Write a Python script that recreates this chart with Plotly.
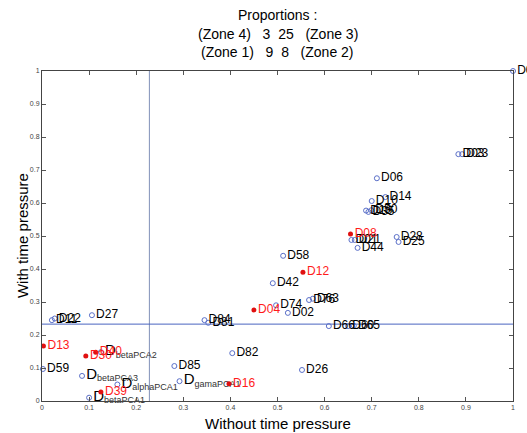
import plotly.graph_objects as go

# Regular (blue open circle) points
names_blue = ["D11", "D22", "D27", "D59",
              "betaPCA2", "betaPCA3", "alphaPCA1", "betaPCA1",
              "D85", "gamaPCA1", "D82", "D26", "D66", "D60", "D65",
              "D84", "D81", "D74", "D02", "D42", "D58", "D76", "D63",
              "D01", "D21", "D44", "D28", "D25", "D10", "D14", "D06",
              "D18", "D35", "D50", "D03", "D23", "D07"]
x_blue = [0.021, 0.027, 0.106, 0.002,
          0.125, 0.085, 0.160, 0.100,
          0.281, 0.292, 0.404, 0.552, 0.609, 0.650, 0.662,
          0.345, 0.353, 0.497, 0.522, 0.490, 0.512, 0.567, 0.575,
          0.657, 0.664, 0.670, 0.753, 0.757, 0.700, 0.729, 0.711,
          0.688, 0.693, 0.699, 0.884, 0.892, 1.000]
y_blue = [0.245, 0.250, 0.260, 0.097,
          0.148, 0.076, 0.050, 0.010,
          0.106, 0.060, 0.145, 0.094, 0.227, 0.227, 0.228,
          0.245, 0.237, 0.290, 0.267, 0.357, 0.440, 0.306, 0.310,
          0.488, 0.488, 0.464, 0.497, 0.482, 0.606, 0.618, 0.675,
          0.577, 0.573, 0.578, 0.748, 0.748, 1.000]

# Highlighted (red filled) points
names_red = ["D13", "D30", "D40", "D39", "D16", "D04", "D12", "D08"]
x_red = [0.003, 0.093, 0.114, 0.125, 0.397, 0.450, 0.554, 0.655]
y_red = [0.167, 0.136, 0.148, 0.027, 0.052, 0.276, 0.390, 0.506]

# Zone thresholds
x_thr = 0.228
y_thr = 0.233

tick_vals = [0, 0.1, 0.2, 0.3, 0.4, 0.5, 0.6, 0.7, 0.8, 0.9, 1]
tick_text = ["0", "0.1", "0.2", "0.3", "0.4", "0.5", "0.6", "0.7", "0.8", "0.9", "1"]

title_lines = ["Proportions :",
               "(Zone 4)   3  25   (Zone 3)",
               "(Zone 1)   9  8   (Zone 2)"]
x_title = "Without time pressure"
y_title = "With time pressure"

FONT = "Liberation Sans"


def fmt(name):
    if name.startswith("D"):
        return name
    return ("<span style='font-size:15px'>D</span>"
            "<sub><span style='font-size:9px;fill:#333333'>" + name + "</span></sub>")


fig = go.Figure()

fig.add_trace(go.Scatter(
    x=x_blue, y=y_blue, mode="markers+text", text=[fmt(n) for n in names_blue],
    textposition="middle right",
    textfont=dict(family=FONT, size=12, color="#000000"),
    marker=dict(symbol="circle-open", size=5, color="#5a6fc8", line=dict(width=1)),
    cliponaxis=False, showlegend=False, hoverinfo="skip"))

fig.add_trace(go.Scatter(
    x=x_red, y=y_red, mode="markers+text", text=names_red,
    textposition="middle right",
    textfont=dict(family=FONT, size=12, color="#ff1a1a"),
    marker=dict(symbol="circle", size=5, color="#e01010"),
    cliponaxis=False, showlegend=False, hoverinfo="skip"))

fig.add_shape(type="line", x0=x_thr, x1=x_thr, y0=0, y1=1, xref="x", yref="y",
              line=dict(color="#8090b8", width=1), layer="below")
fig.add_shape(type="line", x0=0, x1=1, y0=y_thr, y1=y_thr, xref="x", yref="y",
              line=dict(color="#4a64c0", width=1), layer="below")

for i, line in enumerate(title_lines):
    fig.add_annotation(text=line.replace(" ", "\u00a0"), xref="paper", yref="paper",
                       x=0.5, y=1 + (56 - 18.5 * i) / 330.0, xanchor="center", yanchor="middle",
                       showarrow=False, font=dict(family=FONT, size=14, color="#000000"))

fig.add_annotation(text=x_title, xref="paper", yref="paper",
                   x=0.5, y=-22 / 330.0, xanchor="center", yanchor="middle",
                   showarrow=False, font=dict(family=FONT, size=15, color="#000000"))
fig.add_annotation(text=y_title, xref="paper", yref="paper", textangle=-90,
                   x=-20 / 473.0, y=0.5, xanchor="center", yanchor="middle",
                   showarrow=False, font=dict(family=FONT, size=15, color="#000000"))

axis_common = dict(range=[0, 1], tickvals=tick_vals, ticktext=tick_text,
                   ticks="inside", ticklen=4, tickcolor="#555555",
                   showline=True, linecolor="#444444", linewidth=1, mirror="ticks",
                   showgrid=False, zeroline=False,
                   tickfont=dict(family=FONT, size=7, color="#444444"))

fig.update_layout(
    width=527, height=433,
    margin=dict(l=42, r=12, t=71, b=32),
    paper_bgcolor="white", plot_bgcolor="white",
    xaxis=dict(**axis_common),
    yaxis=dict(**axis_common),
)

fig.write_html("out.html",
               config={"displayModeBar": False, "staticPlot": True},
               post_script="document.body.style.margin='0';document.body.style.overflow='hidden';")
